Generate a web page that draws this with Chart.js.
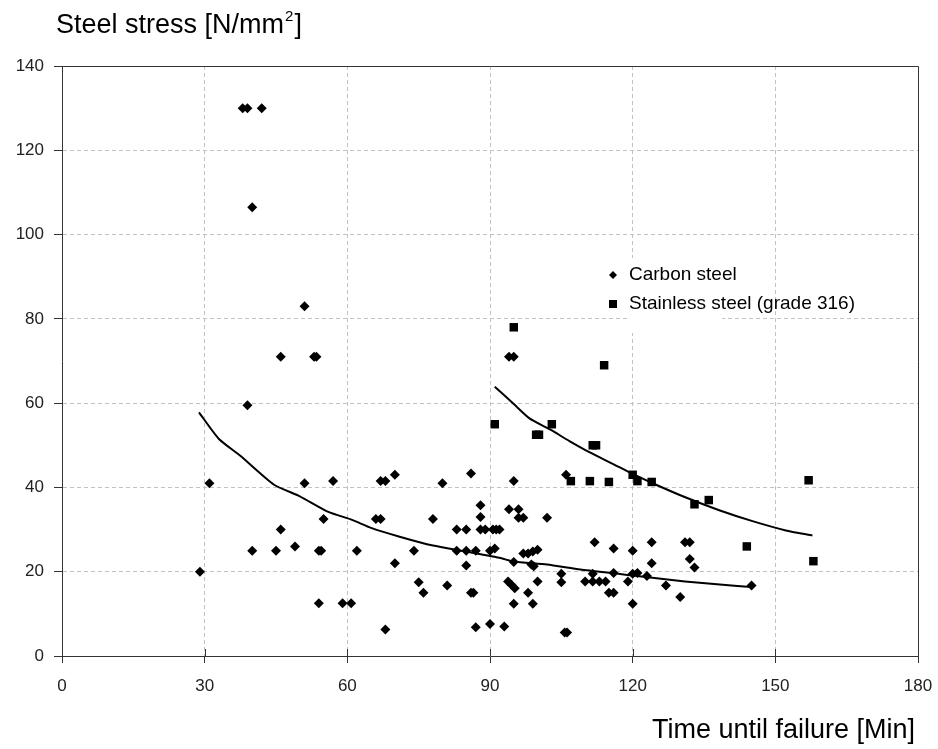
<!DOCTYPE html>
<html>
<head>
<meta charset="utf-8">
<script src="https://cdn.jsdelivr.net/npm/chart.js@4.4.0/dist/chart.umd.min.js"></script>
<style>
  body { margin: 0; background: #fff; }
  #wrap { width: 938px; height: 749px; }
</style>
</head>
<body>
<div id="wrap"><canvas id="chart" width="938" height="749"></canvas></div>
<script>
// Carbon steel test results (time in min, stress in N/mm2)
const carbonTime = [38, 39, 42, 40, 51, 46, 53, 53.5, 39, 31, 51, 57, 55, 46, 40, 45, 49, 54, 54.5, 62,
    29, 54, 59, 60.8, 67, 68, 70, 80, 86, 88, 88, 66, 67, 78, 83, 85, 88, 89, 90.6, 91.3,
    92, 74, 83, 85, 87, 90, 91, 70, 85, 75, 76, 81, 86, 86.5, 68, 87, 90, 94, 95, 106,
    95, 94, 96, 96, 97, 102, 95, 97, 98, 99, 100, 98.7, 99.2, 112, 116, 120, 105, 105, 93.8, 94.5,
    95.2, 100, 98, 95, 99, 110, 111.6, 113, 114.3, 111.6, 116, 119, 115, 116, 120, 120, 121, 93, 105.7, 106.2,
    124, 124, 131, 132, 132, 133, 123, 127, 130, 145];
const carbonStress = [130, 130, 130, 106.5, 83, 71, 71, 71, 59.5, 41, 41, 41.5, 32.5, 30, 25, 25, 26, 25, 25, 25,
    20, 12.5, 12.5, 12.5, 41.5, 41.5, 43, 41, 43.3, 35.8, 33, 32.5, 32.5, 32.5, 30, 30, 30, 30, 30, 30,
    30, 25, 25, 25, 25, 25, 25.5, 22, 21.5, 17.5, 15, 16.7, 15, 15, 6.3, 6.8, 7.6, 71, 71, 43,
    41.5, 34.8, 34.8, 32.8, 32.8, 32.8, 22.3, 24.3, 24.3, 24.8, 25.2, 21.7, 21.3, 27, 25.5, 25, 19.5, 17.5, 17.7, 16.9,
    16.1, 17.7, 15, 12.4, 12.4, 17.7, 17.7, 17.7, 17.7, 19.5, 19.7, 17.7, 15, 15, 12.4, 19.5, 19.7, 7, 5.6, 5.6,
    27, 22, 27, 27, 23, 21, 19, 16.7, 14, 16.7];

// Stainless steel (grade 316) test results
const stainlessTime = [95, 114, 91, 99.7, 100.3, 103, 111.6, 112.3, 107, 111, 115, 120, 121, 124, 133, 136, 157, 144, 158];
const stainlessStress = [78, 69, 55, 52.5, 52.5, 55, 50, 50, 41.5, 41.5, 41.3, 43, 41.5, 41.3, 36, 37, 41.7, 26, 22.5];

// Trend lines
const carbonFitTime = [28.8, 33, 37.5, 44.5, 50, 56, 61, 65, 71, 78, 85, 92, 95, 102, 109, 117, 120, 131, 142, 145];
const carbonFitStress = [57.8, 51.5, 47.5, 40.7, 37.9, 34.2, 32.3, 30.4, 28.3, 26.2, 24.8, 23.3, 22.4, 21.7, 20.5, 19.5, 19.1, 17.7, 16.6, 16.4];
const stainlessFitTime = [91, 95, 98.3, 102.7, 106.7, 111, 115.8, 120, 124.2, 131.2, 138.2, 145.2, 152.2, 157.8];
const stainlessFitStress = [63.9, 59.8, 56.4, 53.7, 51, 48.3, 45.6, 43.2, 41, 37.6, 34.6, 32, 29.8, 28.6];

const xTicks = [0, 30, 60, 90, 120, 150, 180];
const yTicks = [0, 20, 40, 60, 80, 100, 120, 140];
const legendLabels = ['Carbon steel', 'Stainless steel (grade 316)'];

const toPoints = (xs, ys) => xs.map((x, i) => ({ x: x, y: ys[i] }));

const FONT = "'Liberation Sans', Arial, sans-serif";
const AXIS = '#333';

const decorPlugin = {
    id: 'decor',
    beforeDatasetsDraw(chart) {
        const { ctx, chartArea: a, scales } = chart;
        ctx.save();
        // frame
        ctx.strokeStyle = AXIS;
        ctx.lineWidth = 1;
        ctx.beginPath();
        ctx.moveTo(a.left, a.top + 0.5);
        ctx.lineTo(a.right + 0.5, a.top + 0.5);
        ctx.lineTo(a.right + 0.5, a.bottom);
        ctx.stroke();
        // x ticks cross the axis
        ctx.beginPath();
        xTicks.forEach(v => {
            const px = Math.round(scales.x.getPixelForValue(v)) + 0.5;
            ctx.moveTo(px, a.bottom - 7);
            ctx.lineTo(px, a.bottom);
        });
        ctx.stroke();
        // legend box covers the grid
        ctx.fillStyle = '#fff';
        ctx.fillRect(628, 258, 94, 75);
        ctx.fillStyle = '#000';
        ctx.font = '19px ' + FONT;
        ctx.textBaseline = 'middle';
        ctx.fillText(legendLabels[0], 629, 275);
        ctx.fillText(legendLabels[1], 629, 304);
        ctx.beginPath();
        ctx.moveTo(613, 271); ctx.lineTo(617, 275); ctx.lineTo(613, 279); ctx.lineTo(609, 275);
        ctx.closePath();
        ctx.fill();
        ctx.fillRect(609, 300, 8, 8);
        ctx.restore();
    },
    afterDraw(chart) {
        const ctx = chart.ctx;
        ctx.save();
        ctx.fillStyle = '#000';
        ctx.textBaseline = 'alphabetic';
        ctx.font = '27px ' + FONT;
        let t = 'Steel stress [N/mm';
        ctx.fillText(t, 56, 33);
        let w = ctx.measureText(t).width;
        ctx.font = '15px ' + FONT;
        ctx.fillText('2', 56 + w + 1, 21);
        const w2 = ctx.measureText('2').width;
        ctx.font = '27px ' + FONT;
        ctx.fillText(']', 56 + w + w2 + 2, 33);
        ctx.textAlign = 'right';
        ctx.fillText('Time until failure [Min]', 915, 738);
        ctx.restore();
    }
};

const gridColor = (ctx, max) => (ctx.tick && (ctx.tick.value === 0 || ctx.tick.value === max)) ? 'rgba(0,0,0,0)' : '#c2c2c2';

new Chart(document.getElementById('chart'), {
    type: 'scatter',
    data: {
        datasets: [
            {
                label: legendLabels[0],
                data: toPoints(carbonTime, carbonStress),
                pointStyle: 'rectRot',
                pointRadius: 5,
                backgroundColor: '#000',
                borderColor: '#000',
                borderWidth: 0
            },
            {
                label: legendLabels[1],
                data: toPoints(stainlessTime, stainlessStress),
                pointStyle: 'rect',
                pointRadius: 6,
                backgroundColor: '#000',
                borderColor: '#000',
                borderWidth: 0
            },
            {
                label: 'carbon trend',
                data: toPoints(carbonFitTime, carbonFitStress),
                showLine: true,
                pointRadius: 0,
                borderColor: '#000',
                borderWidth: 2,
                tension: 0.2
            },
            {
                label: 'stainless trend',
                data: toPoints(stainlessFitTime, stainlessFitStress),
                showLine: true,
                pointRadius: 0,
                borderColor: '#000',
                borderWidth: 2,
                tension: 0.2
            }
        ]
    },
    options: {
        responsive: false,
        animation: false,
        layout: { padding: { top: 66, right: 20, left: 0, bottom: 0 } },
        plugins: {
            legend: { display: false },
            tooltip: { enabled: false }
        },
        scales: {
            x: {
                type: 'linear',
                min: 0,
                max: 180,
                afterFit: s => { s.height = 93; s.paddingLeft = 0; s.paddingRight = 0; },
                afterBuildTicks: s => { s.ticks = xTicks.map(v => ({ value: v })); },
                ticks: { font: { family: FONT, size: 17 }, color: '#222', padding: 13 },
                grid: { color: c => gridColor(c, 180), tickColor: AXIS, tickLength: 7 },
                border: { color: AXIS, width: 1, dash: [4, 3] }
            },
            y: {
                type: 'linear',
                min: 0,
                max: 140,
                afterFit: s => { s.width = 62; s.paddingTop = 0; s.paddingBottom = 0; },
                afterBuildTicks: s => { s.ticks = yTicks.map(v => ({ value: v })); },
                ticks: { font: { family: FONT, size: 17 }, color: '#222', padding: 10 },
                grid: { color: c => gridColor(c, 140), tickColor: AXIS, tickLength: 8 },
                border: { color: AXIS, width: 1, dash: [4, 3] }
            }
        }
    },
    plugins: [decorPlugin]
});
</script>
</body>
</html>
